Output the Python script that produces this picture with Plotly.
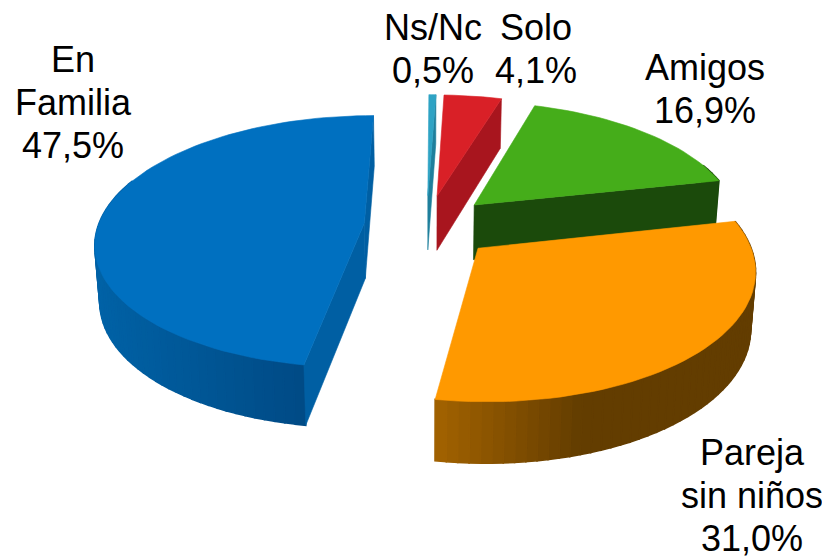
import numpy as np
import plotly.graph_objects as go

# Data (clockwise from the top)
categories = [["Ns/Nc"], ["Solo"], ["Amigos"], ["Pareja", "sin niños"], ["En", "Familia"]]
values = [0.5, 4.1, 16.9, 31.0, 47.5]
explode = [0.25, 0.25, 0.25, 0.26, 0.235]
top_colors = ["#2EA3C4", "#D92027", "#45AD1A", "#FF9900", "#0070C0"]
cut_colors = ["#1F7F9C", "#A8151E", "#1B4A0B", "#6A4000", "#005FA3"]
wall_left = ["#1F7F9C", "#A8151E", "#1B4A0B", "#A36200", "#0062A6"]
wall_right = ["#1F7F9C", "#A8151E", "#1B4A0B", "#633D00", "#00427A"]
label_x = [433, 536, 705, 752, 73]
label_top = [27.5, 27.5, 67, 452, 59]

# Projection of the tilted pie
START = 0.3
CX, CY, RX, KY, PERSP = 426.5, 225.5, 266.0, 123.8, 0.146
BOTTOM_SCALE = 0.985
PAGE_MARGIN = 8  # the page body keeps an 8px margin


def project(X, Y, bottom=False):
    X, Y = np.asarray(X, float), np.asarray(Y, float)
    d = 1 + PERSP * Y
    u = RX * X / d
    v = CY - KY * Y / d
    if bottom:
        u = u * BOTTOM_SCALE
        v = v + (55.5 - 5 * Y)
    return CX + u, v


def hex_rgb(c):
    return np.array([int(c[i:i + 2], 16) for i in (1, 3, 5)], float)


def mix(a, b, t):
    rgb = hex_rgb(a) * (1 - t) + hex_rgb(b) * t
    return "rgb(%d,%d,%d)" % tuple(rgb.round())


def poly(fig, xs, ys, color, lw=0.6):
    fig.add_trace(go.Scatter(
        x=list(xs) + [xs[0]], y=list(ys) + [ys[0]], mode="lines", fill="toself",
        fillcolor=color, line=dict(color=color, width=lw), hoverinfo="skip",
        showlegend=False))


def area(xs, ys):
    xs, ys = np.asarray(xs), np.asarray(ys)
    return 0.5 * np.sum(xs * np.roll(ys, -1) - np.roll(xs, -1) * ys)


fig = go.Figure()
edges = START + np.cumsum([0] + values) * 3.6
slices = []
for i in range(len(values)):
    a0, a1 = edges[i], edges[i + 1]
    mid = np.radians((a0 + a1) / 2)
    ox, oy = explode[i] * np.sin(mid), explode[i] * np.cos(mid)
    th = np.radians(np.linspace(a0, a1, max(4, int((a1 - a0) / 2))))
    rim_x, rim_y = ox + np.sin(th), oy + np.cos(th)
    slices.append((i, ox, oy, rim_x, rim_y))

for i, ox, oy, rim_x, rim_y in slices:
    # outer wall, shaded band by band
    tx, ty = project(rim_x, rim_y)
    bx, by = project(rim_x, rim_y, bottom=True)
    lo, hi = bx.min(), bx.max()
    for k in range(len(tx) - 1):
        if rim_y[k] - oy > 0.35 and rim_y[k + 1] - oy > 0.35:
            continue
        t = np.clip((0.5 * (bx[k] + bx[k + 1]) - lo) / max(hi - lo, 1), 0, 1)
        if i == 3:
            t = min(1.0, t * 2.2)
        poly(fig, [tx[k], tx[k + 1], bx[k + 1], bx[k]],
             [ty[k], ty[k + 1], by[k + 1], by[k]],
             mix(wall_left[i], wall_right[i], t), lw=1.6)
    # the two cut faces, only when they face the viewer
    ax, ay = project(ox, oy)
    abx, aby = project(ox, oy, bottom=True)
    for end, sign in ((0, -1), (-1, 1)):
        qx = [float(ax), tx[end], bx[end], float(abx)]
        qy = [float(ay), ty[end], by[end], float(aby)]
        if sign * area(qx, qy) > 0:
            poly(fig, qx, qy, cut_colors[i])
    # top face
    poly(fig, [float(ax)] + list(tx), [float(ay)] + list(ty), top_colors[i])

LINE_STEP = 43
for name, v, x, y in zip(categories, values, label_x, label_top):
    lines = list(name) + [f"{v:.1f}".replace(".", ",") + "%"]
    for j, line in enumerate(lines):
        fig.add_annotation(x=x, y=y + j * LINE_STEP, text=line, showarrow=False,
                           xanchor="center", yanchor="middle",
                           font=dict(family="Liberation Sans, Arial", size=36, color="#000000"))

fig.update_xaxes(range=[PAGE_MARGIN, 830], visible=False, fixedrange=True)
fig.update_yaxes(range=[558, PAGE_MARGIN], visible=False, fixedrange=True)
fig.update_layout(width=830 - PAGE_MARGIN, height=558 - PAGE_MARGIN, autosize=False,
                  margin=dict(l=0, r=0, t=0, b=0),
                  paper_bgcolor="white", plot_bgcolor="white", showlegend=False)
fig.write_html("out.html", config={"displayModeBar": False})
